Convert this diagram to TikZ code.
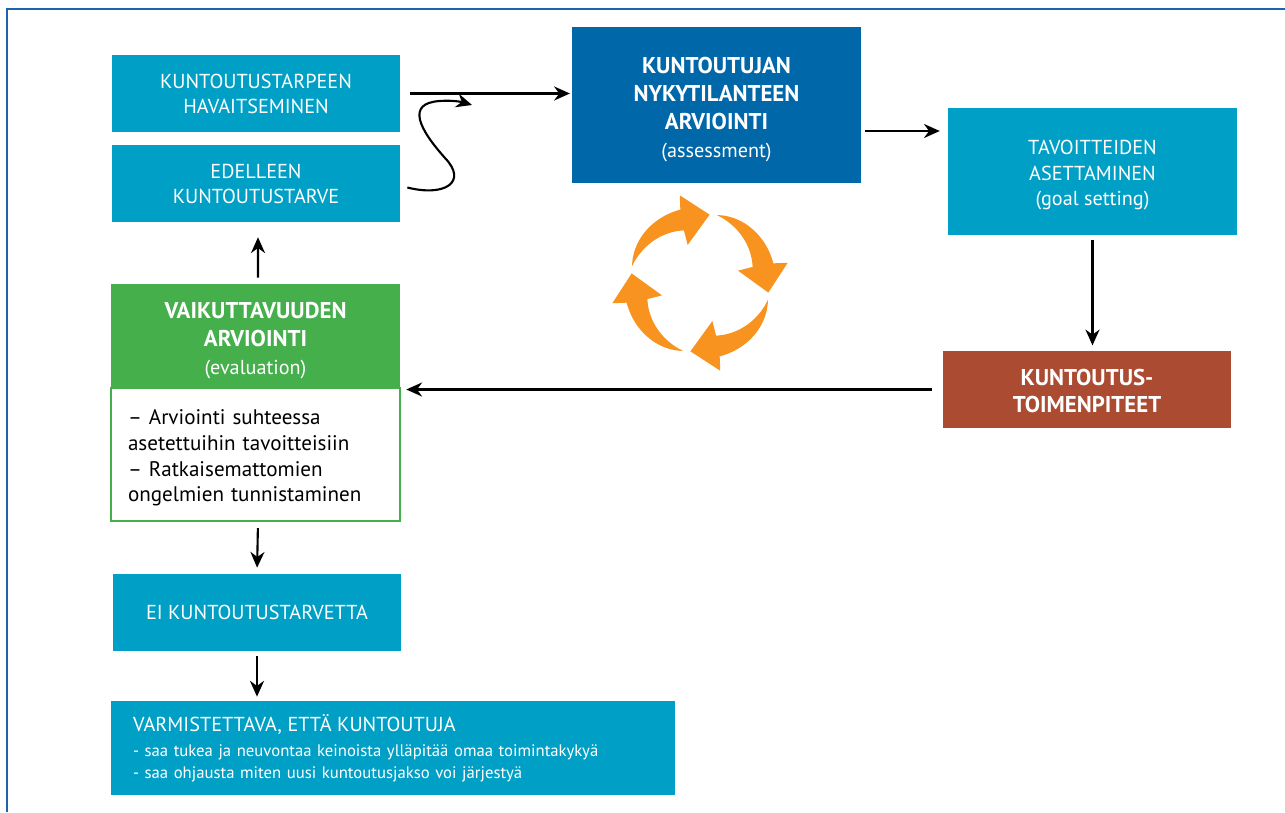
\documentclass[tikz,border=0pt]{standalone}
\usepackage{fontspec}
\setmainfont{PT Sans}
\usetikzlibrary{arrows.meta}
\definecolor{boxblue}{HTML}{00A0C6}
\definecolor{darkblue}{HTML}{0067A9}
\definecolor{evalgreen}{HTML}{44AF4B}
\definecolor{toimbrown}{HTML}{AA4B32}
\definecolor{cycorange}{HTML}{F7931E}
\definecolor{frameblue}{HTML}{1D63AD}
\newcommand{\lift}[1]{\rule{0pt}{#1}}
\begin{document}
\begin{tikzpicture}[x=0.02cm,y=-0.02cm,
 box/.style={fill=boxblue,text=white,align=center,minimum width=5.76cm,minimum height=1.54cm,inner sep=0pt,font=\fontsize{11.5}{14.2}\selectfont},
 headbox/.style={box,font=\fontsize{13}{15.9}\selectfont\bfseries},
 flow/.style={-{Stealth[length=9pt,width=8pt]},line width=1.2pt}]
 \useasboundingbox (0,0) rectangle (1285,812);
 \draw[frameblue,line width=1.4pt] (7,812) -- (7,9) -- (1285,9);
 % boxes
 \node[box] (havait) at (256,93.5) {KUNTOUTUSTARPEEN\\HAVAITSEMINEN};
 \node[box] (edelleen) at (256,183.5) {EDELLEEN\\KUNTOUTUSTARVE};
 \node[headbox,fill=darkblue,minimum width=5.78cm,minimum height=3.12cm] (assess) at (716.5,105)
   {\lift{14.5pt}KUNTOUTUJAN\\NYKYTILANTEEN\\ARVIOINTI\\{\mdseries\fontsize{11.5}{15.9}\selectfont (assessment)}};
 \node[box,minimum width=5.78cm,minimum height=2.54cm,font=\fontsize{11.5}{14.6}\selectfont] (goal) at (1092.5,171.5)
   {\lift{12.5pt}TAVOITTEIDEN\\ASETTAMINEN\\(goal setting)};
 \node[headbox,fill=toimbrown] (toimen) at (1087,389.5) {\lift{11pt}KUNTOUTUS-\\TOIMENPITEET};
 \node[headbox,fill=evalgreen,minimum width=5.78cm,minimum height=2.08cm] (evalhead) at (255.5,336)
   {\lift{14.5pt}VAIKUTTAVUUDEN\\ARVIOINTI\\{\mdseries\fontsize{11.5}{16.4}\selectfont (evaluation)}};
 \node[draw=evalgreen,line width=1.2pt,fill=white,text width=5.1cm,inner xsep=0.34cm,inner ysep=0pt,
   minimum height=2.66cm,align=left,font=\fontsize{12}{14.7}\selectfont] (evalbody) at (255.5,454.5)
   {\lift{12.5pt}-- Arviointi suhteessa\\asetettuihin tavoitteisiin\\-- Ratkaisemattomien\\ongelmien tunnistaminen};
 \node[box] (ei) at (257,612.5) {EI KUNTOUTUSTARVETTA};
 \node[box,minimum width=11.28cm,minimum height=1.88cm,text width=10.4cm,inner xsep=0.44cm,align=left,
   font=\fontsize{9.5}{12.5}\selectfont] (varm) at (393,748)
   {{\fontsize{11.5}{14}\selectfont VARMISTETTAVA, ETTÄ KUNTOUTUJA}\\[2pt]
    - saa tukea ja neuvontaa keinoista ylläpitää omaa toimintakykyä\\
    - saa ohjausta miten uusi kuntoutusjakso voi järjestyä};
 % connectors
 \draw[flow,shorten <=5.5pt,shorten >=1pt] (havait.east) -- (havait.east -| assess.west);
 \coordinate (sEnd) at (472,105);
 \draw[flow] ([shift={(7,4)}]edelleen.east) .. controls (445,197) and (468,182) .. (445,158)
   .. controls (420,130) and (405,103) .. (440,101) .. controls (452,100) and (462,102) .. (sEnd);
 \draw[flow,shorten <=2.3pt,shorten >=4.5pt] ([shift={(0,26)}]assess.east) -- ([shift={(0,26)}]assess.east -| goal.west);
 \draw[flow,shorten <=2.5pt,shorten >=3pt] (goal.south) -- (goal.south |- toimen.north);
 \draw[flow,shorten <=6pt,shorten >=3pt] (toimen.west) -- (toimen.west -| evalbody.north east);
 \draw[flow,shorten <=3.4pt,shorten >=8.5pt] ([shift={(2.5,0)}]evalhead.north) -- ([shift={(2,0)}]edelleen.south);
 \draw[flow,shorten <=3.4pt,shorten >=3.4pt] ([shift={(2.5,0)}]evalbody.south) -- (ei.north);
 \draw[flow,shorten <=2.8pt,shorten >=2.3pt] (ei.south) -- (ei.south |- varm.north);
 % cycle arrows
 \begin{scope}[shift={(700,283)},yscale=-1]
 \foreach \a in {0,-90,-180,-270}
  \fill[cycorange,rotate=\a] plot[domain=166:105,samples=25] (\x:{76-6*((\x-105)/61)^3})
    -- (103:90) -- (82:69) -- (108:40)
    -- plot[domain=107:166,samples=25] (\x:{55+15*(\x-107)/59}) -- cycle;
 \end{scope}
\end{tikzpicture}
\end{document}
